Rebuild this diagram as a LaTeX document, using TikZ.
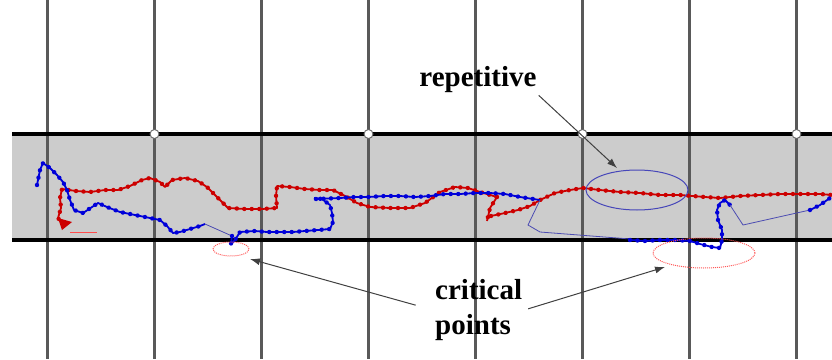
\documentclass[tikz,border=0pt]{standalone}
\usepackage{fontspec}
\setmainfont{Liberation Serif}
\usetikzlibrary{arrows.meta,shapes.geometric,decorations.markings}

\tikzset{
  dotsred/.style={draw=red!80!black, line width=1.8pt, line join=round,
    decoration={markings, mark=between positions 0 and 1 step 7.5pt with {\fill[red!80!black] circle (2.2pt);}},
    postaction=decorate},
  dotsblue/.style={draw=blue!85!black, line width=1.8pt, line join=round,
    decoration={markings, mark=between positions 0 and 1 step 7.5pt with {\fill[blue!85!black] circle (2.2pt);}},
    postaction=decorate},
  thinlink/.style={draw=blue!40!gray, line width=0.8pt},
  bigword/.style={font=\fontsize{29}{35}\selectfont\bfseries, inner sep=2pt},
  ringred/.style={ellipse, draw=red!65, densely dotted, line width=1pt, inner sep=0pt},
  ringblue/.style={ellipse, draw=blue!45!gray, line width=1pt, inner sep=0pt},
  callout/.style={draw=black!75, line width=1pt, -{Latex[length=10pt,width=7pt]}}
}

\begin{document}
\begin{tikzpicture}[x=1pt, y=-1pt]
  \useasboundingbox (0,0) rectangle (832,359);

  % corridor
  \fill[black!20] (12,134) rectangle (832,240);
  \foreach \k in {0,...,7}
    \draw[black!65, line width=2.4pt] (47.5+107*\k,0) -- (47.5+107*\k,359);
  \draw[black, line width=3.2pt] (12,134) -- (832,134);
  \draw[black, line width=3.2pt] (12,240) -- (832,240);
  \foreach \k in {1,3,5,7}
    \filldraw[fill=white, draw=black!60, line width=0.9pt] (47.5+107*\k,134) circle (4.5pt);

  % red run
  \draw[red!70, line width=1pt] (70,232) -- (97,232);
  \fill[red!80!black] (58,218) -- (72,222) -- (62,230) -- cycle;
  \draw[dotsred] (63,225) -- (58,218) -- (61,208) -- (60,198) -- (62,189) -- (76,191) -- (90,192)
    -- (105,190) -- (118,190) -- (130,186) -- (142,180) -- (150,178) -- (160,182) -- (165,187)
    -- (172,180) -- (185,178) -- (198,181) -- (207,187) -- (215,195) -- (223,203) -- (228,208)
    -- (245,209) -- (262,209) -- (277,208) -- (276,196) -- (277,186) -- (290,187) -- (305,189)
    -- (320,190) -- (333,190) -- (345,196) -- (357,203) -- (370,207) -- (390,208) -- (410,208)
    -- (425,203) -- (440,192) -- (455,187) -- (468,188) -- (480,192) -- (497,197);
  \draw[dotsred] (497,197) -- (490,208) -- (487,221);
  \draw[dotsred] (491,216) -- (505,213) -- (518,210) -- (530,206) -- (540,200) -- (555,193)
    -- (570,190) -- (583,188) -- (600,190) -- (620,192) -- (640,193) -- (660,195) -- (680,195)
    -- (705,197) -- (720,198) -- (740,196) -- (760,195) -- (780,194) -- (800,194) -- (820,194)
    -- (832,195);

  % blue run
  \draw[dotsblue] (37,185) -- (40,170) -- (43,163) -- (50,168) -- (57,175) -- (63,182) -- (67,190)
    -- (70,200) -- (74,210) -- (83,213) -- (92,207) -- (98,203) -- (107,207) -- (120,212)
    -- (135,215) -- (150,218) -- (160,220) -- (167,226) -- (173,233) -- (180,232) -- (190,229)
    -- (200,226) -- (205,224);
  \draw[thinlink] (205,224) -- (232,236);
  \draw[dotsblue] (232,236) -- (231,244) -- (235,240) -- (240,232) -- (255,231) -- (267,232)
    -- (280,232) -- (293,232) -- (305,231) -- (318,230) -- (330,229) -- (333,222) -- (332,213)
    -- (330,205) -- (322,199) -- (314,198);
  \draw[dotsblue] (316,199) -- (340,198) -- (355,197) -- (368,197) -- (385,196) -- (400,196)
    -- (415,197) -- (430,196) -- (445,194) -- (460,194) -- (475,193) -- (490,193) -- (505,194)
    -- (520,197) -- (540,200);
  \draw[thinlink] (540,200) -- (528,225) -- (540,232) -- (630,239);
  \draw[dotsblue] (630,240) -- (645,241) -- (660,240) -- (675,240) -- (690,241) -- (700,244)
    -- (712,247) -- (720,248) -- (722,240) -- (722,230) -- (718,220) -- (717,210) -- (720,203)
    -- (725,200) -- (730,205);
  \draw[thinlink] (730,205) -- (743,225) -- (810,210);
  \draw[dotsblue] (810,210) -- (820,205) -- (830,198);

  % marked areas
  \node[ringblue, minimum width=102pt, minimum height=40pt] (rep ring) at (637,190) {};
  \node[ringred, minimum width=36pt, minimum height=14pt] (crit ring a) at (231,249) {};
  \node[ringred, minimum width=102pt, minimum height=30pt] (crit ring b) at (704,253) {};
  \coordinate (tip rep) at (617,168);
  \coordinate (tip a) at (250,259);
  \coordinate (tip b) at (665,267);

  \node[bigword] (rep) at (478,80) {repetitive};
  \node[bigword, align=left, anchor=west] (crit) at (433,310) {critical\\points};

  \draw[callout] (rep.south east) -- (tip rep);
  \draw[callout, shorten <=18pt] (crit.west) -- (tip a);
  \draw[callout, shorten <=4pt] (crit.east) -- (tip b);
\end{tikzpicture}
\end{document}
